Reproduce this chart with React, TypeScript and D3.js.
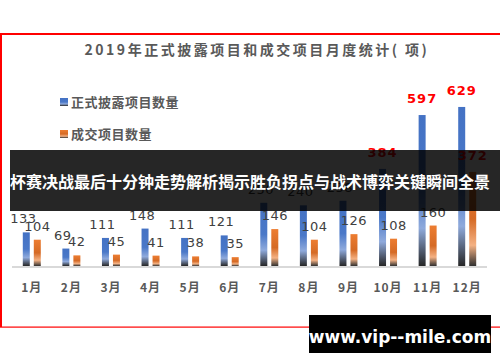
import React from 'react';
import * as d3 from 'd3';

const months = ['1月', '2月', '3月', '4月', '5月', '6月', '7月', '8月', '9月', '10月', '11月', '12月'];
const disclosed = [133, 69, 111, 148, 111, 121, 250, 240, 258, 384, 597, 629];
const traded = [104, 42, 45, 41, 38, 35, 146, 104, 126, 108, 160, 372];
const seriesNames = ['正式披露项目数量', '成交项目数量'];

const title = '2019年正式披露项目和成交项目月度统计( 项)';
const banner = '杯赛决战最后十分钟走势解析揭示胜负拐点与战术博弈关键瞬间全景';
const watermark = 'www.vip--mile.com';

const width = 500;
const height = 362;
const font = '"Noto Sans CJK SC", "Noto Sans", sans-serif';

const App: React.FC = () => {
  const x = d3.scaleBand<string>().domain(months).range([12, 487]).paddingInner(0.42).paddingOuter(0.21);
  const y = d3.scaleLinear().domain([0, 700]).range([266, 89]);
  const barW = 7;
  const gap = 4;

  const labelColor = (v: number) => (v > 300 ? '#ff0000' : '#404040');

  const bars = (values: number[], s: number, grad: string) =>
    values.map((v, i) => {
      const center = (x(months[i]) as number) + x.bandwidth() / 2;
      const bx = s === 0 ? center - gap / 2 - barW : center + gap / 2;
      const big = v > 300;
      return (
        <g key={`${s}-${i}`}>
          <rect x={bx} y={y(v)} width={barW} height={y(0) - y(v)} fill={`url(#${grad})`} />
          <text
            x={bx + barW / 2 + (s === 0 && !big ? -3 : 0)}
            y={y(v) - (big ? 12 : 9)}
            textAnchor="middle"
            fontSize={13}
            fontWeight={big ? 700 : 400}
            letterSpacing={big ? 1 : 0.5}
            fill={labelColor(v)}
            fontFamily='"DejaVu Sans", sans-serif'
          >
            {v}
          </text>
        </g>
      );
    });

  return (
    <svg width={width} height={height} style={{ position: 'absolute', left: 0, top: 0 }}>
      <defs>
        <linearGradient id="gBlue" x1="0" y1="0" x2="0" y2="1">
          <stop offset="0" stopColor="#4472c4" />
          <stop offset="0.5" stopColor="#4a78c8" />
          <stop offset="0.75" stopColor="#8faadc" />
          <stop offset="1" stopColor="#262626" />
        </linearGradient>
        <linearGradient id="gOrange" x1="0" y1="0" x2="0" y2="1">
          <stop offset="0" stopColor="#ed7d31" />
          <stop offset="0.5" stopColor="#d56a25" />
          <stop offset="0.78" stopColor="#f4b183" />
          <stop offset="1" stopColor="#303030" />
        </linearGradient>
      </defs>
      <rect width={width} height={height} fill="#ffffff" />

      {/* frame */}
      <rect x={0} y={33} width={width} height={2} fill="#ff0000" />
      <rect x={0} y={33} width={2} height={294} fill="#ff0000" />
      <rect x={0} y={326.5} width={width} height={1.2} fill="#ff0000" />

      <text x={257} y={55} textAnchor="middle" fontSize={14} fontWeight={700} letterSpacing={2.5} fill="#595959" fontFamily={font}>
        {title}
      </text>

      {/* legend */}
      {seriesNames.map((n, i) => (
        <g key={n} transform={`translate(60, ${98 + i * 32})`}>
          <rect width={8} height={8} fill={i === 0 ? 'url(#gBlue)' : 'url(#gOrange)'} />
          <text x={11} y={9} fontSize={13} fontWeight={700} letterSpacing={0.5} fill="#595959" fontFamily={font}>
            {n}
          </text>
        </g>
      ))}

      <line x1={12} x2={487} y1={y(0) + 1} y2={y(0) + 1} stroke="#d9d9d9" strokeWidth={2} />

      {bars(disclosed, 0, 'gBlue')}
      {bars(traded, 1, 'gOrange')}

      {months.map(m => (
        <text
          key={m}
          x={(x(m) as number) + x.bandwidth() / 2}
          y={292}
          textAnchor="middle"
          fontSize={12}
          fontWeight={700}
          letterSpacing={1}
          fill="#595959"
          fontFamily={font}
        >
          {m}
        </text>
      ))}

      {/* overlays */}
      <rect x={10} y={150} width={490} height={61} fill="#000000" opacity={0.85} />
      <text x={250} y={188} textAnchor="middle" fontSize={16} fontWeight={700} fill="#ffffff" fontFamily={font}>
        {banner}
      </text>

      <rect x={309} y={315} width={182} height={38} fill="#000000" />
      <text x={400} y={343} textAnchor="middle" fontSize={17} fontWeight={700} fill="#ffffff" fontFamily='"DejaVu Sans", sans-serif'>
        {watermark}
      </text>
    </svg>
  );
};

export default App;
